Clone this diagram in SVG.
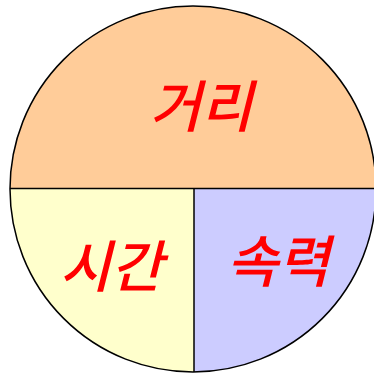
<svg xmlns="http://www.w3.org/2000/svg" width="374" height="376" viewBox="0 0 374 376">
<defs>
<clipPath id="c"><circle cx="193" cy="189" r="183"/></clipPath>
<style>
.lbl{font-family:"Noto Sans CJK KR","Noto Sans",sans-serif;font-size:56px;font-weight:500;font-style:italic;fill:#ff0000;text-anchor:middle}
.ln{stroke:#000;stroke-width:1.5;fill:none}
</style>
</defs>
<g clip-path="url(#c)">
<g id="top"><rect x="0" y="0" width="374" height="189" fill="#ffcc99"/></g>
<g id="left"><rect x="0" y="189" width="194" height="190" fill="#ffffcc"/></g>
<g id="right"><rect x="194" y="189" width="190" height="190" fill="#ccccff"/></g>
</g>
<g id="connectors">
<circle class="ln" cx="193" cy="189" r="183" stroke-width="1"/>
<line class="ln" x1="10" y1="188.5" x2="376" y2="188.5"/>
<line class="ln" x1="194" y1="188.5" x2="194" y2="372"/>
</g>
<g id="label-distance"><text class="lbl" x="201" y="127">거리</text></g>
<g id="label-time"><text class="lbl" x="111" y="287">시간</text></g>
<g id="label-speed"><text class="lbl" x="278" y="282">속력</text></g>
</svg>
